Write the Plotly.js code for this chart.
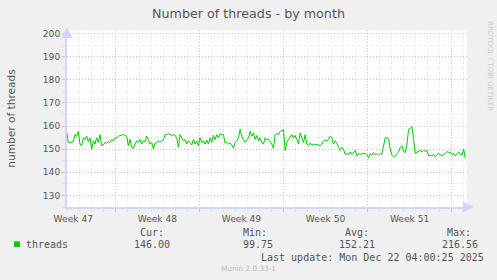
<!DOCTYPE html>
<html>
<head>
<meta charset="utf-8">
<script src="https://cdn.plot.ly/plotly-3.0.1.min.js"></script>
<style>
  html, body { margin: 0; padding: 0; background: #F0F0F0; }
  #chart { width: 497px; height: 280px; }
</style>
</head>
<body>
<div id="chart"></div>
<script>
// ---- data ----
// time in days relative to Monday 00:00 of Week 48; one sample every 200 minutes
const T0 = -4.055;
const STEP = 5 / 36;
const threads = [
  157.7,152.9,152.9,152.9,153.2,156.3,155.6,157.7,152.2,151.5,
  154.9,154.2,155.6,153.2,154.9,149.9,153.6,152.2,154.9,152.9,
  156.3,151.5,151.8,152.9,152.6,153.2,152.9,154.2,153.6,154.9,
  154.9,155.6,155.9,156.2,156.3,155.9,155.6,151.5,154.2,150.8,
  150.4,152.2,153.6,152.9,154.2,152.2,153.6,153.2,155.6,154.0,
  152.2,152.9,150.1,152.6,152.9,153.6,152.9,153.6,154.0,156.3,
  156.3,156.7,156.3,155.9,156.3,155.9,154.9,150.8,156.3,154.9,
  153.6,154.2,152.2,153.6,152.9,151.8,154.2,152.2,153.6,151.5,
  154.9,152.9,153.6,152.2,154.0,152.2,154.9,152.9,155.9,154.2,
  156.3,154.9,156.7,156.3,156.3,152.6,152.9,152.2,152.6,151.8,
  150.4,152.9,153.6,154.9,158.6,155.6,154.2,152.9,154.0,154.9,
  157.7,155.6,157.0,154.2,155.9,153.6,154.9,152.9,152.2,154.9,
  154.0,154.2,153.2,152.2,150.4,156.3,156.7,156.3,
  157.7,158.1,158.4,149.5,152.9,154.2,155.6,156.3,154.9,155.9,
  154.2,152.2,157.0,154.9,152.9,156.3,152.2,151.5,152.6,151.8,
  152.2,151.8,152.1,151.8,151.5,152.2,153.6,154.0,153.6,154.2,
  155.6,154.9,152.2,153.6,152.6,150.8,149.5,150.8,149.9,147.7,
  148.1,147.7,148.8,147.7,148.5,149.5,147.1,148.1,147.7,148.1,
  148.0,148.1,147.7,146.3,148.1,147.4,148.5,147.7,148.1,147.4,
  148.1,147.7,151.5,154.9,154.9,154.5,150.1,147.4,146.7,147.1,
  148.1,148.8,150.8,151.5,149.0,148.5,152.2,158.6,159.0,159.7,
  154.2,148.1,148.5,149.0,149.5,148.8,149.5,149.0,149.5,147.1,
  147.4,147.1,147.7,146.7,147.7,148.1,147.4,147.1,147.7,148.1,
  149.0,148.5,148.8,147.7,148.1,147.1,148.1,148.8,147.7,147.4,
  150.1,146.0
];
const weekStarts = [-7, 0, 7, 14, 21];
const weekLabels = ['Week 47', 'Week 48', 'Week 49', 'Week 50', 'Week 51'];
const yTicks = [130, 140, 150, 160, 170, 180, 190, 200];
const seriesName = 'threads';
const statNames = ['Cur:', 'Min:', 'Avg:', 'Max:'];
const statValues = ['146.00', '99.75', '152.21', '216.56'];
const lastUpdate = 'Last update: Mon Dec 22 04:00:25 2025';
const footer = 'Munin 2.0.33-1';
const sideText = 'RRDTOOL / TOBI OETIKER';

// ---- layout constants ----
const W = 497, H = 280;
const PL = 67, PR = 466.7, PT = 29.5, PB = 207.3;
const XR = [-4.025, 29.28];
const YR = [125, 201.5];
const px = v => (v - PL) / (PR - PL);
const py = v => (PB - v) / (PB - PT);

const GREEN = '#00CC00';
const FONT = '#555555';
const MGRID = '#F0B4B4';
const GRID = '#E0E0E0';
const AXIS = '#CFD6F8';

const xs = threads.map((_, i) => T0 + i * STEP);

const trace = {
  x: xs, y: threads, type: 'scatter', mode: 'lines',
  name: seriesName, line: { color: GREEN, width: 1 },
  hoverinfo: 'x+y', showlegend: false
};

const statColX = [151.5, 254.5, 356.5, 459];
const ann = [];
ann.push({ xref: 'paper', yref: 'paper', x: px(47.5), y: py(245), text: seriesName,
  showarrow: false, xanchor: 'center', yanchor: 'middle',
  font: { family: 'DejaVu Sans Mono', size: 10, color: FONT } });
statNames.forEach((s, i) => {
  ann.push({ xref: 'paper', yref: 'paper', x: px(statColX[i]), y: py(233.3), text: s,
    showarrow: false, xanchor: 'center', yanchor: 'middle',
    font: { family: 'DejaVu Sans Mono', size: 10, color: FONT } });
  ann.push({ xref: 'paper', yref: 'paper', x: px(statColX[i] + 0.5 + (i === 1 ? 3 : 0)), y: py(245), text: statValues[i],
    showarrow: false, xanchor: 'center', yanchor: 'middle',
    font: { family: 'DejaVu Sans Mono', size: 10, color: FONT } });
});
ann.push({ xref: 'paper', yref: 'paper', x: px(372.2), y: py(257.7), text: lastUpdate,
  showarrow: false, xanchor: 'center', yanchor: 'middle',
  font: { family: 'DejaVu Sans Mono', size: 10, color: FONT } });
ann.push({ xref: 'paper', yref: 'paper', x: px(248), y: py(269.3), text: footer,
  showarrow: false, xanchor: 'center', yanchor: 'middle',
  font: { family: 'DejaVu Sans', size: 7.3, color: '#BBBBBB' } });
ann.push({ xref: 'paper', yref: 'paper', x: px(489), y: py(66), text: sideText,
  showarrow: false, xanchor: 'center', yanchor: 'middle', textangle: 90,
  font: { family: 'DejaVu Sans', size: 7, color: '#CCCCCC' } });
// axis arrows
ann.push({ xref: 'paper', yref: 'paper', x: px(67), y: py(26.5), ax: 0, ay: 8, text: '',
  showarrow: true, arrowhead: 2, arrowsize: 1.1, arrowwidth: 2, arrowcolor: AXIS });
ann.push({ xref: 'paper', yref: 'paper', x: px(473.5), y: py(207.3), ax: -8, ay: 0, text: '',
  showarrow: true, arrowhead: 2, arrowsize: 1.1, arrowwidth: 2, arrowcolor: AXIS });

const layout = {
  width: W, height: H,
  margin: { l: PL, r: W - PR, t: PT, b: H - PB, pad: 0 },
  paper_bgcolor: '#F0F0F0', plot_bgcolor: '#FFFFFF',
  showlegend: false,
  title: { text: 'Number of threads - by month', x: 0.5, xref: 'container', xanchor: 'center',
    y: 1 - 13.3 / H, yref: 'container', yanchor: 'middle',
    font: { family: 'DejaVu Sans', size: 12.7, color: FONT } },
  xaxis: {
    range: XR, tick0: 0, dtick: 7, showticklabels: false,
    showgrid: true, gridcolor: MGRID, griddash: '1px,2px', gridwidth: 1,
    ticks: 'outside', ticklen: 3, tickcolor: MGRID,
    minor: { tick0: 0, dtick: 1, showgrid: true, gridcolor: GRID, griddash: '1px,2px',
      ticks: 'outside', ticklen: 3, tickcolor: GRID },
    showline: true, linecolor: AXIS, linewidth: 2, zeroline: false, fixedrange: true
  },
  xaxis2: {
    overlaying: 'x', anchor: 'y', side: 'bottom', range: XR,
    tickmode: 'array', tickvals: weekStarts.map(d => d + 3.5), ticktext: weekLabels,
    showgrid: false, zeroline: false, showline: false,
    ticks: 'outside', ticklen: 3.5, tickcolor: 'rgba(0,0,0,0)',
    tickfont: { family: 'DejaVu Sans', size: 9.1, color: FONT }
  },
  yaxis: {
    range: YR, tickmode: 'array', tickvals: yTicks,
    showgrid: true, gridcolor: MGRID, griddash: '1px,2px',
    ticks: 'outside', ticklen: 3, tickcolor: MGRID,
    minor: { tick0: 0, dtick: 5, showgrid: true, gridcolor: GRID, griddash: '1px,2px',
      ticks: 'outside', ticklen: 3, tickcolor: GRID },
    showline: true, linecolor: AXIS, linewidth: 2, zeroline: false,
    tickfont: { family: 'DejaVu Sans', size: 9.1, color: FONT },
    title: { text: 'number of threads', standoff: 25,
      font: { family: 'DejaVu Sans', size: 10.6, color: FONT } }
  },
  shapes: [{ type: 'rect', xref: 'paper', yref: 'paper',
    x0: px(14), x1: px(20), y0: py(247.5), y1: py(241.8),
    fillcolor: GREEN, line: { width: 0 } }],
  annotations: ann
};

const trace2 = { x: [XR[0]], y: [YR[0]], xaxis: 'x2', type: 'scatter', mode: 'markers',
  marker: { opacity: 0 }, hoverinfo: 'skip', showlegend: false };

Plotly.newPlot('chart', [trace, trace2], layout, { staticPlot: true, displayModeBar: false });
</script>
</body>
</html>
